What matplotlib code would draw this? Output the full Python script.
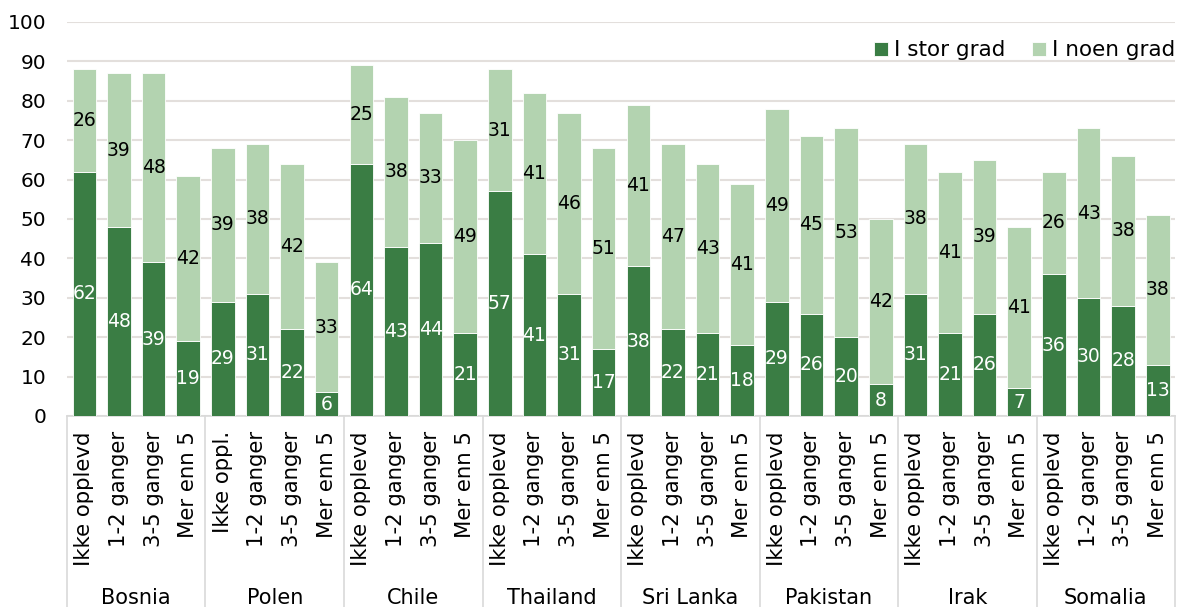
import matplotlib
matplotlib.use("Agg")
import matplotlib.pyplot as plt
import matplotlib.transforms as mtransforms
import numpy as np

plt.rcParams["font.family"] = ["DejaVu Sans"]

countries = ["Bosnia", "Polen", "Chile", "Thailand", "Sri Lanka", "Pakistan", "Irak", "Somalia"]
sub_labels = [
    ["Ikke opplevd", "1-2 ganger", "3-5 ganger", "Mer enn 5"],
    ["Ikke oppl.", "1-2 ganger", "3-5 ganger", "Mer enn 5"],
] + [["Ikke opplevd", "1-2 ganger", "3-5 ganger", "Mer enn 5"]] * 6

stor_grad = [62, 48, 39, 19,  29, 31, 22, 6,  64, 43, 44, 21,  57, 41, 31, 17,
             38, 22, 21, 18,  29, 26, 20, 8,  31, 21, 26, 7,   36, 30, 28, 13]
noen_grad = [26, 39, 48, 42,  39, 38, 42, 33,  25, 38, 33, 49,  31, 41, 46, 51,
             41, 47, 43, 41,  49, 45, 53, 42,  38, 41, 39, 41,  26, 43, 38, 38]

DARK = "#3A7D44"
LIGHT = "#B3D3B0"
GRID = "#E3DFDC"

fig = plt.figure(figsize=(11.81, 6.07), dpi=100)
ax = fig.add_axes([0.0567, 0.3147, 0.9383, 0.6491])

x = np.arange(len(stor_grad))
dark = np.array(stor_grad)
light = np.array(noen_grad)

ax.bar(x, dark, width=0.68, color=DARK, edgecolor="white", linewidth=0.6, label="I stor grad", zorder=3)
ax.bar(x, light, width=0.68, bottom=dark, color=LIGHT, edgecolor="white", linewidth=0.6, label="I noen grad", zorder=3)

for i in range(len(x)):
    ax.text(x[i], dark[i] / 2, str(dark[i]), ha="center", va="center", color="white", fontsize=13.5, zorder=4)
    ax.text(x[i], dark[i] + light[i] / 2, str(light[i]), ha="center", va="center", color="black", fontsize=13.5, zorder=4)

ax.set_xlim(-0.5, len(x) - 0.5)
ax.set_ylim(0, 100)
ax.set_yticks(range(0, 101, 10))
ax.yaxis.grid(True, color=GRID, linewidth=1.5, zorder=0)
ax.tick_params(axis="y", length=0, labelsize=14.5, pad=15)

all_labels = [lab for grp in sub_labels for lab in grp]
ax.set_xticks(x)
ax.set_xticklabels(all_labels, rotation=90, fontsize=15.3)
ax.tick_params(axis="x", length=0, pad=11)

for s in ["left", "right", "top"]:
    ax.spines[s].set_visible(False)
ax.spines["bottom"].set_color("#D9D9D9")
ax.spines["bottom"].set_linewidth(1.2)

trans = mtransforms.blended_transform_factory(ax.transData, ax.transAxes)
for b in range(len(countries) + 1):
    xb = b * 4 - 0.5
    ax.plot([xb, xb], [0, -0.5], transform=trans, color="#D9D9D9", linewidth=1.2, clip_on=False)
for g, name in enumerate(countries):
    ax.text(g * 4 + 1.5, -0.462, name, transform=trans, ha="center", va="center", fontsize=15)

ax.legend(loc="upper right", bbox_to_anchor=(1.008, 0.975), ncol=2, frameon=False, fontsize=15.5,
          handlelength=0.65, handleheight=0.65, handletextpad=0.3, columnspacing=1.2, borderaxespad=0)

fig.savefig("out.png", dpi=100)
